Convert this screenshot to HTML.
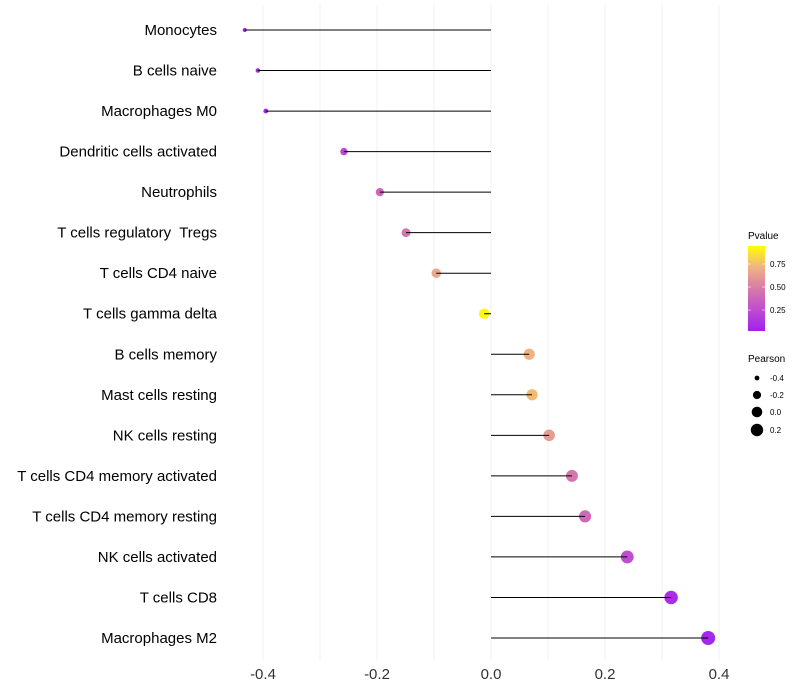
<!DOCTYPE html>
<html><head><meta charset="utf-8">
<style>
html,body{margin:0;padding:0;background:#fff;}
svg{display:block;font-family:"Liberation Sans",Arial,sans-serif;}
#ylabels text{white-space:pre;}
</style></head>
<body>
<svg id="chart" width="800" height="700">
<defs>
<linearGradient id="pgrad" x1="0" y1="1" x2="0" y2="0">
<stop offset="0" stop-color="#a020f0"/>
<stop offset="0.3" stop-color="#c456c8"/>
<stop offset="0.5" stop-color="#d77aa6"/>
<stop offset="0.75" stop-color="#f0b283"/>
<stop offset="1" stop-color="#ffff00"/>
</linearGradient>
</defs>
<g id="grid"></g>
<g id="points"></g>
<g id="marks"></g>
<g id="ylabels"></g>
<g id="xlabels"></g>
<g>
<text x="748" y="239" font-size="10" fill="#000">Pvalue</text>
<rect x="748" y="246" width="17" height="85" fill="url(#pgrad)"/>
<line x1="748" y1="264" x2="751" y2="264" stroke="#fff" opacity="0.6"/><line x1="762" y1="264" x2="765" y2="264" stroke="#fff" opacity="0.6"/>
<line x1="748" y1="287" x2="751" y2="287" stroke="#fff" opacity="0.6"/><line x1="762" y1="287" x2="765" y2="287" stroke="#fff" opacity="0.6"/>
<line x1="748" y1="310" x2="751" y2="310" stroke="#fff" opacity="0.6"/><line x1="762" y1="310" x2="765" y2="310" stroke="#fff" opacity="0.6"/>
<text x="770" y="267" font-size="8" fill="#000">0.75</text>
<text x="770" y="290" font-size="8" fill="#000">0.50</text>
<text x="770" y="313" font-size="8" fill="#000">0.25</text>
</g>
<g>
<text x="748" y="362" font-size="10" fill="#000">Pearson</text>
<circle cx="757" cy="378" r="2.4" fill="#000"/>
<circle cx="757" cy="395" r="4.1" fill="#000"/>
<circle cx="757" cy="412" r="5.3" fill="#000"/>
<circle cx="757" cy="430" r="6.2" fill="#000"/>
<text x="770" y="381" font-size="8" fill="#000">-0.4</text>
<text x="770" y="398" font-size="8" fill="#000">-0.2</text>
<text x="770" y="415" font-size="8" fill="#000">0.0</text>
<text x="770" y="433" font-size="8" fill="#000">0.2</text>
</g>
</svg>
<script>
const categories = ["Monocytes","B cells naive","Macrophages M0","Dendritic cells activated","Neutrophils","T cells regulatory  Tregs","T cells CD4 naive","T cells gamma delta","B cells memory","Mast cells resting","NK cells resting","T cells CD4 memory activated","T cells CD4 memory resting","NK cells activated","T cells CD8","Macrophages M2"];
const pearson = [-0.432,-0.409,-0.395,-0.258,-0.195,-0.149,-0.096,-0.012,0.067,0.072,0.102,0.142,0.165,0.239,0.316,0.381];
const pvalues = [0.01,0.02,0.03,0.22,0.38,0.47,0.7,0.97,0.75,0.78,0.65,0.47,0.4,0.25,0.08,0.04];
const xTicks = [-0.4,-0.2,0.0,0.2,0.4];
const xTickLabels = ["-0.4","-0.2","0.0","0.2","0.4"];
const xGrid = [-0.4,-0.3,-0.2,-0.1,0.0,0.1,0.2,0.3,0.4];

const NS="http://www.w3.org/2000/svg";
const xScale = v => 491 + v*570;
const yScale = i => 30 + i*(638-30)/(categories.length-1);
const rScale = v => Math.sqrt(Math.max(1, 27.9 + 55.6*v));
function lerp(a,b,t){return a+(b-a)*t;}
const stops=[[0,[160,32,240]],[0.3,[196,86,200]],[0.5,[215,122,166]],[0.75,[240,178,131]],[1,[255,255,0]]];
function color(p){
  for(let k=1;k<stops.length;k++){
    if(p<=stops[k][0]){const t=(p-stops[k-1][0])/(stops[k][0]-stops[k-1][0]);
      const c=stops[k-1][1].map((v,j)=>Math.round(lerp(v,stops[k][1][j],t)));
      return `rgb(${c.join(',')})`;}
  }
  return "rgb(255,255,0)";
}
function mk(tag,attrs,parent){const e=document.createElementNS(NS,tag);for(const k in attrs)e.setAttribute(k,attrs[k]);parent.appendChild(e);return e;}
const grid=document.getElementById('grid'),marks=document.getElementById('marks'),pts=document.getElementById('points'),yl=document.getElementById('ylabels'),xl=document.getElementById('xlabels');
xGrid.forEach(v=>{
  const l=mk('line',{x1:xScale(v),x2:xScale(v),y1:5,y2:660,stroke:'#f2f2f2','stroke-width':1},grid);
  
  
});
xTicks.forEach((v,i)=>{
  const t=mk('text',{x:xScale(v),y:679,'font-size':15,'text-anchor':'middle',fill:'#333'},xl);
  t.textContent=xTickLabels[i];
  
  
});
categories.forEach((c,i)=>{
  const y=yScale(i);
  const t=mk('text',{x:217,y:y+5,'font-size':15,'text-anchor':'end',fill:'#000'},yl);
  t.textContent=c;
  
  
  const d=mk('circle',{cx:xScale(pearson[i]),cy:y,r:rScale(pearson[i]),fill:color(pvalues[i])},pts);
  
  
  const s=mk('line',{x1:xScale(0),x2:xScale(pearson[i]),y1:y,y2:y,stroke:'#000','stroke-width':1},marks);
  
  
});
</script>
</body></html>
